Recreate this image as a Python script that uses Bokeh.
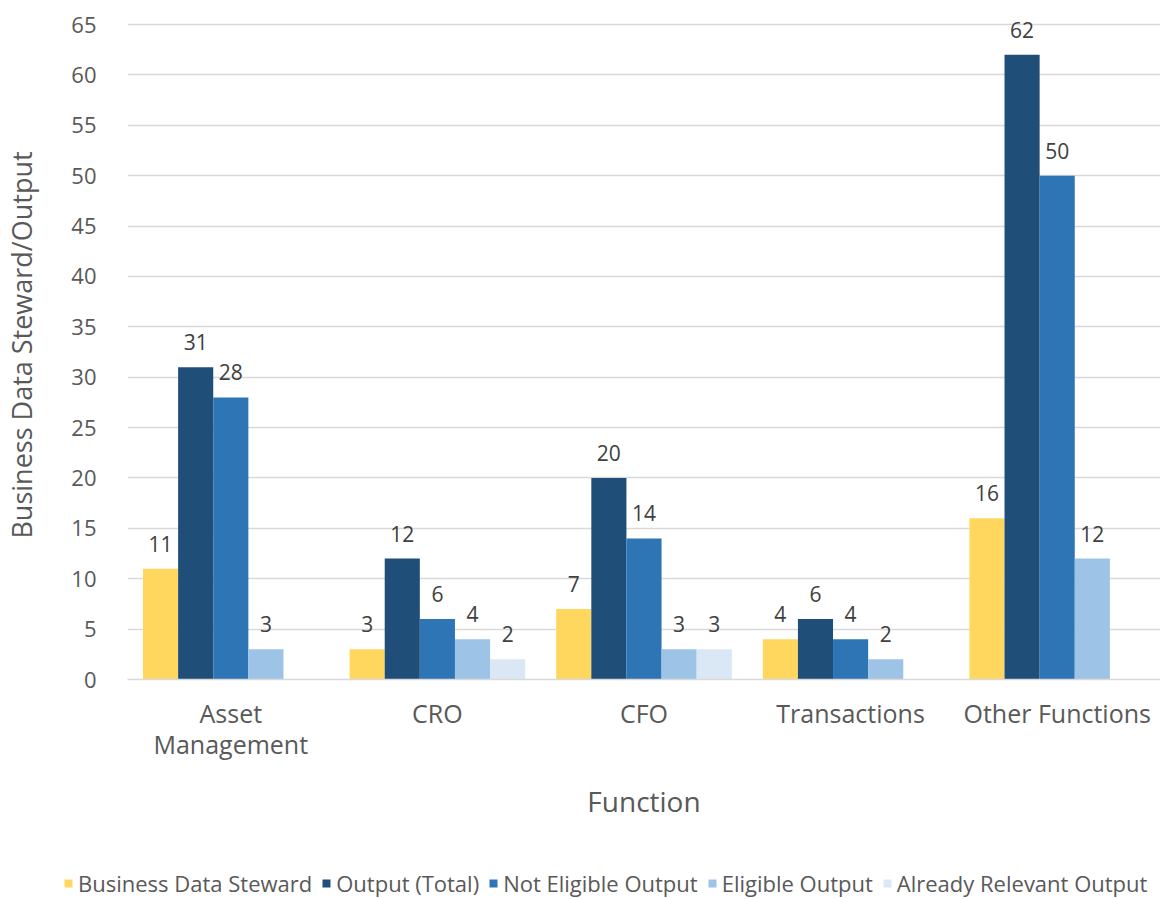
from bokeh.plotting import figure
from bokeh.models import (ColumnDataSource, Range1d, FixedTicker, LabelSet,
                          Legend, LegendItem, LinearAxis)
from bokeh.core.properties import value
from bokeh.transform import dodge
from bokeh.embed import file_html
from bokeh.resources import INLINE

# Functions and counts per series
functions = ["Asset Management", "CRO", "CFO", "Transactions", "Other Functions"]
business_data_steward = [11, 3, 7, 4, 16]
output_total = [31, 12, 20, 6, 62]
not_eligible_output = [28, 6, 14, 4, 50]
eligible_output = [3, 4, 3, 2, 12]
already_relevant_output = [0, 2, 3, 0, 0]

# Category labels, split over two lines
label_line1 = ["Asset", "CRO", "CFO", "Transactions", "Other Functions"]
label_line2 = ["Management", "", "", "", ""]

series_names = ["Business Data Steward", "Output (Total)", "Not Eligible Output",
                "Eligible Output", "Already Relevant Output"]
series_values = [business_data_steward, output_total, not_eligible_output,
                 eligible_output, already_relevant_output]
series_colors = ["#FFD75E", "#1F4E79", "#2E75B6", "#9DC3E6", "#DAE8F5"]
y_ticks = list(range(0, 70, 5))

FONT = "Open Sans"
GREY = "#595959"

positions = list(range(len(functions)))
x_extent = (-0.5, len(functions) - 0.5)

p = figure(
    x_range=Range1d(*x_extent),
    y_range=Range1d(0, 66.4),
    width=1160, height=840,
    min_border_left=125, min_border_right=0,
    min_border_top=10, min_border_bottom=161,
    output_backend="svg", toolbar_location=None,
)
p.outline_line_color = None
p.background_fill_color = "white"

bar_w = 0.17
offsets = [-2 * bar_w, -bar_w, 0, bar_w, 2 * bar_w]
sources = []
for vals, color, off in zip(series_values, series_colors, offsets):
    src = ColumnDataSource(dict(pos=positions, v=vals))
    sources.append(src)
    p.vbar(x=dodge("pos", off), top="v", width=bar_w,
           source=src, fill_color=color, line_color=None)
    keep = [i for i, v in enumerate(vals) if v > 0]
    lsrc = ColumnDataSource(dict(pos=[positions[i] for i in keep],
                                 v=[vals[i] for i in keep],
                                 t=[str(vals[i]) for i in keep]))
    p.add_layout(LabelSet(x=dodge("pos", off), y="v", text="t",
                          source=lsrc, text_align="center", text_baseline="bottom",
                          y_offset=17, text_font=value(FONT),
                          text_font_size=value("21px"),
                          text_color="#404040"))

# y axis
p.yaxis.ticker = FixedTicker(ticks=y_ticks)
p.yaxis.axis_line_color = None
p.yaxis.major_tick_line_color = None
p.yaxis.minor_tick_line_color = None
p.yaxis.major_label_standoff = 25
p.yaxis.major_label_text_font = FONT
p.yaxis.major_label_text_font_size = "22px"
p.yaxis.major_label_text_color = GREY
p.yaxis.axis_label = "Business Data Steward/Output"
p.yaxis.axis_label_text_font = FONT
p.yaxis.axis_label_text_font_size = "27px"
p.yaxis.axis_label_text_font_style = "normal"
p.yaxis.axis_label_text_color = GREY
p.yaxis.axis_label_standoff = 28


def style_x(ax, overrides, standoff):
    ax.ticker = FixedTicker(ticks=positions)
    ax.major_label_overrides = overrides
    ax.major_tick_line_color = None
    ax.minor_tick_line_color = None
    ax.major_tick_out = 0
    ax.major_tick_in = 0
    ax.major_label_standoff = standoff
    ax.major_label_text_font = FONT
    ax.major_label_text_font_size = "25px"
    ax.major_label_text_color = GREY


# x axis: first label line
xa = p.xaxis[0]
style_x(xa, dict(zip(positions, label_line1)), 16)
xa.axis_line_color = "#D9D9D9"
xa.axis_line_width = 1.5

# second label line and the axis title
xb = LinearAxis()
style_x(xb, dict(zip(positions, label_line2)), -6)
xb.axis_line_color = None
xb.axis_label = "Function"
xb.axis_label_text_font = FONT
xb.axis_label_text_font_size = "28px"
xb.axis_label_text_font_style = "normal"
xb.axis_label_text_color = GREY
xb.axis_label_standoff = 18
p.add_layout(xb, "below")

p.xgrid.grid_line_color = None
p.ygrid.grid_line_color = "#D9D9D9"
p.ygrid.grid_line_width = 1.5

# legend strip underneath the chart; its swatch renderers share the series
# sources but are hidden, so only the legend entries are drawn
leg = figure(width=1160, height=59, x_range=Range1d(*x_extent),
             y_range=Range1d(-2000, -1000), min_border=0,
             x_axis_location=None, y_axis_location=None,
             output_backend="svg", toolbar_location=None)
leg.outline_line_color = None
leg.grid.visible = False
items = []
for name, src, color, off in zip(series_names, sources, series_colors, offsets):
    swatch = leg.vbar(x=dodge("pos", off), top="v", width=bar_w, source=src,
                      fill_color=color, line_color=None, visible=False)
    items.append(LegendItem(label=name, renderers=[swatch]))
legend = Legend(items=items, orientation="horizontal", location=(63, 1),
                label_text_font=FONT, label_text_font_size="22px",
                label_text_color=GREY, glyph_width=10, glyph_height=10,
                label_standoff=5, spacing=9, padding=0, margin=0,
                border_line_color=None, background_fill_alpha=0)
leg.add_layout(legend, "center")

open("out.html", "w").write(file_html([p, leg], INLINE))
